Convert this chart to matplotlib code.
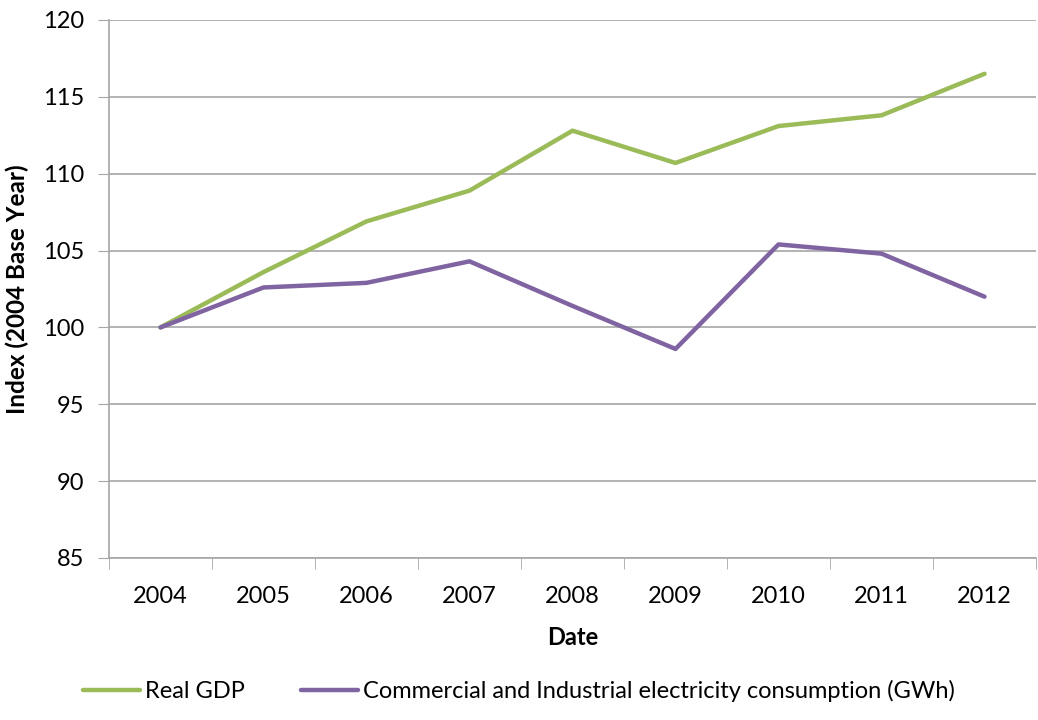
import matplotlib
matplotlib.use("Agg")
import matplotlib.pyplot as plt

years = ["2004", "2005", "2006", "2007", "2008", "2009", "2010", "2011", "2012"]
real_gdp = [100.0, 103.6, 106.9, 108.9, 112.8, 110.7, 113.1, 113.8, 116.5]
electricity = [100.0, 102.6, 102.9, 104.3, 101.4, 98.6, 105.4, 104.8, 102.0]
yticks = [85, 90, 95, 100, 105, 110, 115, 120]

plt.rcParams['font.family'] = ['Lato', 'DejaVu Sans']

fig = plt.figure(figsize=(10.38, 7.2), dpi=100)
ax = fig.add_axes([109/1038, 1 - 558/720, (1036-109)/1038, (558-20)/720])

x = list(range(len(years)))
ax.plot(x, real_gdp, color="#9BBB59", lw=3.2, solid_capstyle="round", label="Real GDP", zorder=3)
ax.plot(x, electricity, color="#8064A2", lw=3.2, solid_capstyle="round",
        label="Commercial and Industrial electricity consumption (GWh)", zorder=3)

ax.set_xlim(-0.5, len(years) - 0.5)
ax.set_ylim(85, 120)
ax.set_yticks(yticks)
ax.set_yticklabels([str(v) for v in yticks], fontsize=17)
ax.set_xticks(x)
ax.set_xticklabels(years, fontsize=17)
ax.set_xticks([i - 0.5 for i in range(len(years) + 1)], minor=True)
ax.tick_params(axis='x', which='major', length=0, pad=20)
ax.tick_params(axis='x', which='minor', length=8, color="#a6a6a6", direction='out')
ax.tick_params(axis='y', length=8, color="#a6a6a6", direction='out', pad=10)

ax.grid(axis='y', color="#a6a6a6", lw=1.2)
ax.set_axisbelow(True)
for s in ["top", "right"]:
    ax.spines[s].set_visible(False)
for s in ["left", "bottom"]:
    ax.spines[s].set_color("#a6a6a6")
    ax.spines[s].set_linewidth(1.2)

ax.set_xlabel("Date", fontsize=17, fontweight="bold", labelpad=14)
ax.set_ylabel("Index (2004 Base Year)", fontsize=17.5, fontweight="bold", labelpad=10)

fig.legend(loc="center", bbox_to_anchor=(0.5, 1 - 691/720), ncol=2, frameon=False,
           fontsize=17, handlelength=2.4, handletextpad=0.2, columnspacing=2.4)

fig.savefig("out.png", dpi=100)
